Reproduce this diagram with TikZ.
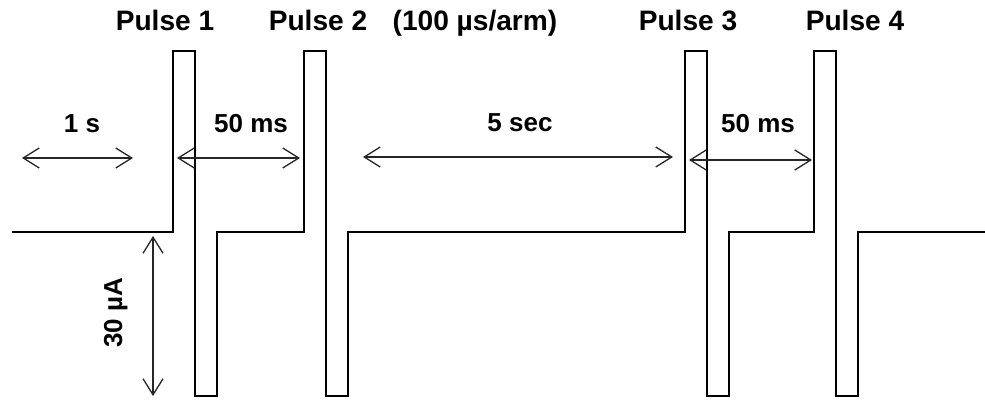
\documentclass[tikz,border=0pt]{standalone}
\usepackage{fontspec}
\setmainfont{Liberation Sans}
\usetikzlibrary{arrows.meta}
\begin{document}
\begin{tikzpicture}[x=0.02cm,y=-0.02cm,
		pulse/.style={line width=1.7pt,line join=miter,color=black},
		span/.style={{Straight Barb[length=0.32cm,width=0.4cm]}-{Straight Barb[length=0.32cm,width=0.4cm]},line width=0.75pt,color=black!85},
		title/.style={anchor=base,font=\fontsize{16}{18}\selectfont\bfseries},
		lbl/.style={anchor=base,font=\fontsize{14.8}{17}\selectfont\bfseries}]
	\useasboundingbox (0,0) rectangle (985,402);
	
	% signal
	\draw[pulse] (12,232) foreach \p in {173,304,685,814}{
		-- (\p,232) -- (\p,51) -- ++(22,0) -- ++(0,345) -- ++(22,0) -- ++(0,-164)}
		-- (985,232);
	
	\node (p1) at (165,31)[title]{Pulse 1};
	\node (p2) at (318,31)[title]{Pulse 2};
	\node (arm) at (475,31)[title]{(100 µs/arm)};
	\node (p3) at (688,31)[title]{Pulse 3};
	\node (p4) at (855,31)[title]{Pulse 4};
	
	% time spans
	\coordinate (a1) at (22,158);  \coordinate (b1) at (133,158);
	\coordinate (a2) at (177,158); \coordinate (b2) at (300,158);
	\coordinate (a3) at (363,157); \coordinate (b3) at (673,157);
	\coordinate (a4) at (689,160); \coordinate (b4) at (812,160);
	\draw[span](a1)--(b1);
	\draw[span](a2)--(b2);
	\draw[span](a3)--(b3);
	\draw[span](a4)--(b4);
	\node (t1) at (82,133)[lbl]{1 s};
	\node (t2) at (251,133)[lbl]{50 ms};
	\node (t3) at (520,132)[lbl]{5 sec};
	\node (t4) at (758,133)[lbl]{50 ms};
	
	% amplitude
	\coordinate (ia) at (153,236); \coordinate (ib) at (153,396);
	\draw[span](ia)--(ib);
	\node (amp) at (122,313)[lbl,rotate=90]{30 µA};
\end{tikzpicture}
\end{document}
